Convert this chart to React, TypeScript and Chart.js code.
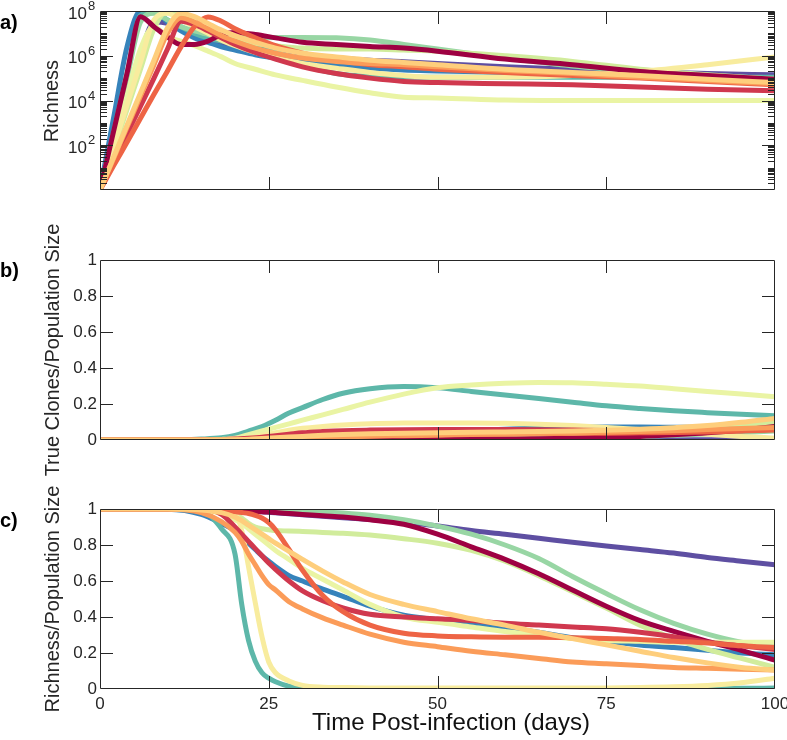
import React, { useEffect, useRef } from "react";
import { Chart, registerables } from "chart.js";

Chart.register(...registerables);

const FONT = "'Liberation Sans', Arial, Helvetica, sans-serif";
const INK = "#262626";
const W = 787;

// series colours (Spectral, 12 steps)
const SERIES_COLORS = [
  "#9e0142", "#d0384e", "#ee6445", "#fb9c59", "#fece7c", "#f8ec9e",
  "#eaf4a4", "#d1ec9c", "#98d6a4", "#5db7a9", "#3683bb", "#5e4fa2",
];
// drawing order, bottom -> top
const DRAW_ORDER = [11, 10, 9, 8, 7, 6, 5, 0, 1, 2, 3, 4];

const X_TICKS = [0, 25, 50, 75, 100];
const X_TITLE = "Time Post-infection (days)";
const A_Y_TICKS = [1e2, 1e4, 1e6, 1e8];
const A_Y_BASE = "10";
const A_Y_EXPONENTS = ["2", "4", "6", "8"];
const BC_Y_TICKS = [0, 0.2, 0.4, 0.6, 0.8, 1];
const BC_Y_LABELS = ["0", "0.2", "0.4", "0.6", "0.8", "1"];
const Y_TITLE_A = "Richness";
const Y_TITLE_B = "True Clones/Population Size";
const Y_TITLE_C = "Richness/Population Size";
const PANEL_LABELS = ["a)", "b)", "c)"];

// ---------- panel a: richness (log) ----------
const TIME_A = [0, 2, 4, 6, 8, 10, 12, 14, 16, 18, 20, 23, 26, 30, 35, 40, 45, 50, 60, 70, 80, 90, 100];
const A_S01 = [1, 4.0e2, 1.6e5, 5.6e7, 2.0e7, 6.9e6, 3.2e6, 3.2e6, 4.5e6, 8.9e6, 1.1e7, 8.9e6, 6.3e6, 4.0e6, 3.2e6, 2.6e6, 2.2e6, 1.6e6, 7.1e5, 4.0e5, 2.0e5, 1.3e5, 8.9e4];
const A_S02 = [1, 18, 3.2e2, 5.6e3, 1.0e5, 2.0e6, 3.5e7, 2.5e7, 1.3e7, 6.3e6, 3.2e6, 1.4e6, 7.1e5, 3.2e5, 1.6e5, 1.0e5, 7.1e4, 6.3e4, 5.6e4, 5.0e4, 4.0e4, 3.2e4, 2.7e4];
const A_S03 = [1, 12, 1.35e2, 1.6e3, 1.9e4, 2.1e5, 2.5e6, 2.0e7, 5.4e7, 3.5e7, 1.6e7, 6.3e6, 2.8e6, 1.3e6, 6.3e5, 4.0e5, 3.2e5, 2.5e5, 1.8e5, 1.3e5, 1.0e5, 7.1e4, 5.0e4];
const A_S04 = [1, 25, 6.3e2, 1.6e4, 4.0e5, 1.0e7, 5.0e7, 3.2e7, 1.6e7, 7.9e6, 4.5e6, 2.2e6, 1.3e6, 7.9e5, 5.6e5, 4.5e5, 4.0e5, 3.2e5, 2.2e5, 1.6e5, 1.1e5, 7.9e4, 5.6e4];
const A_S05 = [1, 28, 7.9e2, 2.2e4, 6.3e5, 1.8e7, 7.9e7, 5.6e7, 2.8e7, 1.4e7, 7.9e6, 4.0e6, 2.2e6, 1.3e6, 8.9e5, 6.3e5, 5.0e5, 4.0e5, 2.5e5, 1.8e5, 1.3e5, 8.9e4, 6.3e4];
const A_S06 = [1, 79, 6.3e3, 5.0e5, 4.0e7, 7.9e7, 4.0e7, 2.0e7, 1.0e7, 5.0e6, 2.8e6, 1.4e6, 7.9e5, 4.5e5, 2.8e5, 1.8e5, 1.3e5, 1.1e5, 1.1e5, 1.3e5, 2.0e5, 4.0e5, 8.9e5];
const A_S07 = [1, 1.3e2, 1.6e4, 2.0e6, 2.0e7, 7.1e6, 4.5e6, 2.8e6, 1.6e6, 8.9e5, 4.5e5, 2.5e5, 1.4e5, 7.9e4, 4.0e4, 2.2e4, 1.4e4, 1.3e4, 1.05e4, 1.0e4, 1.0e4, 1.0e4, 1.0e4];
const A_S08 = [1, 63, 4.0e3, 2.5e5, 1.6e7, 1.0e8, 6.3e7, 3.2e7, 1.6e7, 8.9e6, 5.6e6, 3.5e6, 2.8e6, 2.2e6, 2.0e6, 2.0e6, 1.8e6, 1.6e6, 1.0e6, 5.6e5, 2.5e5, 1.4e5, 8.9e4];
const A_S09 = [1, 3.2e2, 1.0e5, 3.2e7, 7.9e7, 4.0e7, 2.0e7, 1.3e7, 8.9e6, 7.1e6, 6.3e6, 6.3e6, 6.6e6, 6.6e6, 6.3e6, 5.0e6, 3.2e6, 2.0e6, 7.9e5, 3.5e5, 2.0e5, 1.3e5, 8.9e4];
const A_S10 = [1, 4.0e2, 1.6e5, 6.3e7, 8.9e7, 4.0e7, 2.0e7, 1.0e7, 6.3e6, 4.5e6, 3.5e6, 2.5e6, 1.6e6, 4.0e5, 1.6e5, 1.2e5, 1.1e5, 1.1e5, 1.1e5, 1.1e5, 1.1e5, 1.1e5, 1.1e5];
const A_S11 = [1, 1.6e3, 2.5e6, 1.0e8, 1.0e8, 3.2e7, 1.3e7, 6.3e6, 4.0e6, 2.5e6, 1.8e6, 1.1e6, 7.9e5, 5.6e5, 4.0e5, 2.8e5, 2.3e5, 2.1e5, 1.8e5, 1.4e5, 1.1e5, 9.3e4, 7.9e4];
const A_S12 = [1, 1.0e2, 1.0e4, 1.0e6, 3.2e7, 2.8e7, 1.6e7, 8.9e6, 5.6e6, 3.5e6, 2.5e6, 1.8e6, 1.3e6, 1.0e6, 7.9e5, 6.3e5, 5.4e5, 4.5e5, 3.2e5, 2.5e5, 2.0e5, 1.6e5, 1.4e5];

// ---------- panel b: true clones / population size ----------
const TIME_B = [0, 10, 15, 18, 20, 22, 24, 26, 28, 30, 33, 36, 40, 45, 50, 55, 60, 65, 70, 75, 80, 85, 90, 95, 100];
const B_S01 = [0, 0, 0, 0, 0, 0, 0, 0.001, 0.001, 0.002, 0.002, 0.003, 0.003, 0.004, 0.004, 0.005, 0.005, 0.007, 0.01, 0.015, 0.02, 0.029, 0.04, 0.056, 0.075];
const B_S02 = [0, 0, 0, 0.002, 0.005, 0.01, 0.016, 0.024, 0.032, 0.04, 0.047, 0.052, 0.055, 0.057, 0.058, 0.058, 0.058, 0.057, 0.055, 0.053, 0.05, 0.049, 0.048, 0.052, 0.06];
const B_S03 = [0, 0, 0, 0, 0.001, 0.002, 0.004, 0.006, 0.009, 0.012, 0.016, 0.02, 0.024, 0.028, 0.03, 0.032, 0.034, 0.036, 0.037, 0.038, 0.04, 0.042, 0.045, 0.05, 0.055];
const B_S04 = [0, 0, 0, 0, 0.001, 0.003, 0.005, 0.008, 0.011, 0.014, 0.017, 0.019, 0.021, 0.024, 0.027, 0.03, 0.033, 0.036, 0.039, 0.043, 0.047, 0.052, 0.058, 0.064, 0.07];
const B_S05 = [0, 0, 0, 0.001, 0.002, 0.004, 0.008, 0.012, 0.016, 0.02, 0.026, 0.031, 0.035, 0.038, 0.04, 0.043, 0.045, 0.047, 0.05, 0.054, 0.06, 0.068, 0.08, 0.098, 0.12];
const B_S06 = [0, 0, 0, 0.002, 0.005, 0.012, 0.025, 0.04, 0.055, 0.065, 0.075, 0.083, 0.09, 0.094, 0.095, 0.095, 0.093, 0.088, 0.08, 0.07, 0.058, 0.045, 0.032, 0.02, 0.01];
const B_S07 = [0, 0, 0, 0.003, 0.01, 0.03, 0.05, 0.07, 0.09, 0.11, 0.14, 0.17, 0.21, 0.255, 0.29, 0.305, 0.315, 0.32, 0.318, 0.31, 0.3, 0.285, 0.27, 0.255, 0.24];
const B_S08 = [0, 0, 0, 0, 0, 0, 0.001, 0.002, 0.003, 0.004, 0.004, 0.005, 0.005, 0.007, 0.01, 0.011, 0.012, 0.015, 0.02, 0.027, 0.035, 0.046, 0.06, 0.077, 0.095];
const B_S09 = [0, 0, 0, 0, 0, 0, 0, 0.001, 0.001, 0.001, 0.002, 0.002, 0.003, 0.004, 0.005, 0.006, 0.008, 0.01, 0.012, 0.015, 0.02, 0.026, 0.033, 0.041, 0.05];
const B_S10 = [0, 0, 0.005, 0.012, 0.025, 0.05, 0.075, 0.11, 0.15, 0.18, 0.225, 0.26, 0.285, 0.297, 0.29, 0.27, 0.25, 0.23, 0.21, 0.19, 0.175, 0.162, 0.152, 0.143, 0.135];
const B_S11 = [0, 0, 0, 0, 0, 0.001, 0.002, 0.004, 0.007, 0.01, 0.016, 0.022, 0.03, 0.038, 0.045, 0.053, 0.06, 0.066, 0.07, 0.072, 0.072, 0.071, 0.07, 0.068, 0.065];
const B_S12 = [0, 0, 0, 0, 0, 0, 0, 0, 0, 0, 0, 0, 0, 0, 0, 0, 0, 0, 0, 0.001, 0.001, 0.001, 0.002, 0.002, 0.002];

// ---------- panel c: richness / population size ----------
const TIME_C = [0, 10, 15, 18, 20, 21, 22, 23, 24, 25, 26, 28, 30, 33, 36, 40, 45, 50, 55, 60, 65, 70, 75, 80, 85, 90, 95, 100];
const C_S01 = [1, 1, 1, 0.998, 0.995, 0.993, 0.99, 0.988, 0.985, 0.983, 0.98, 0.975, 0.97, 0.962, 0.955, 0.94, 0.915, 0.86, 0.79, 0.72, 0.64, 0.55, 0.46, 0.38, 0.32, 0.265, 0.215, 0.16];
const C_S02 = [1, 1, 1, 0.97, 0.9, 0.86, 0.82, 0.78, 0.74, 0.7, 0.665, 0.6, 0.545, 0.49, 0.45, 0.415, 0.4, 0.39, 0.38, 0.365, 0.355, 0.345, 0.335, 0.315, 0.29, 0.26, 0.24, 0.22];
const C_S03 = [1, 1, 1, 0.995, 0.985, 0.98, 0.975, 0.965, 0.95, 0.925, 0.885, 0.775, 0.66, 0.52, 0.43, 0.355, 0.31, 0.295, 0.29, 0.288, 0.288, 0.285, 0.28, 0.275, 0.265, 0.255, 0.24, 0.23];
const C_S04 = [1, 1, 0.98, 0.93, 0.87, 0.82, 0.75, 0.69, 0.63, 0.58, 0.55, 0.485, 0.445, 0.395, 0.355, 0.305, 0.26, 0.235, 0.21, 0.19, 0.17, 0.15, 0.14, 0.13, 0.12, 0.115, 0.11, 0.105];
const C_S05 = [1, 1, 0.995, 0.98, 0.955, 0.935, 0.91, 0.885, 0.86, 0.835, 0.81, 0.765, 0.72, 0.655, 0.595, 0.525, 0.47, 0.43, 0.39, 0.355, 0.315, 0.28, 0.245, 0.21, 0.175, 0.145, 0.12, 0.105];
const C_S06 = [1, 1, 1, 0.995, 0.975, 0.88, 0.68, 0.48, 0.29, 0.15, 0.09, 0.045, 0.02, 0.01, 0.008, 0.006, 0.005, 0.005, 0.005, 0.005, 0.005, 0.005, 0.006, 0.008, 0.012, 0.02, 0.035, 0.06];
const C_S07 = [1, 1, 0.995, 0.975, 0.94, 0.92, 0.89, 0.86, 0.83, 0.8, 0.77, 0.72, 0.67, 0.61, 0.55, 0.47, 0.4, 0.37, 0.345, 0.32, 0.3, 0.28, 0.27, 0.265, 0.26, 0.26, 0.26, 0.26];
const C_S08 = [1, 1, 0.998, 0.99, 0.97, 0.95, 0.92, 0.9, 0.89, 0.885, 0.88, 0.878, 0.875, 0.87, 0.865, 0.855, 0.835, 0.81, 0.77, 0.71, 0.63, 0.54, 0.45, 0.355, 0.28, 0.22, 0.17, 0.12];
const C_S09 = [1, 1, 1, 1, 0.998, 0.997, 0.996, 0.995, 0.994, 0.993, 0.992, 0.991, 0.99, 0.985, 0.978, 0.965, 0.94, 0.905, 0.86, 0.8, 0.725, 0.625, 0.53, 0.44, 0.365, 0.305, 0.26, 0.235];
const C_S10 = [1, 1, 0.99, 0.89, 0.75, 0.47, 0.27, 0.155, 0.09, 0.06, 0.04, 0.015, 0.005, 0.002, 0, 0, 0, 0, 0, 0, 0, 0, 0, 0, 0, 0.002, 0.004, 0.005];
const C_S11 = [1, 0.998, 0.97, 0.92, 0.88, 0.845, 0.81, 0.775, 0.74, 0.71, 0.68, 0.63, 0.6, 0.555, 0.515, 0.46, 0.41, 0.385, 0.36, 0.34, 0.315, 0.285, 0.265, 0.245, 0.23, 0.215, 0.2, 0.19];
const C_S12 = [1, 1, 1, 0.998, 0.995, 0.993, 0.99, 0.987, 0.985, 0.982, 0.979, 0.974, 0.968, 0.96, 0.952, 0.942, 0.928, 0.905, 0.88, 0.86, 0.838, 0.815, 0.795, 0.775, 0.755, 0.73, 0.71, 0.69];

const SERIES_A = [A_S01, A_S02, A_S03, A_S04, A_S05, A_S06, A_S07, A_S08, A_S09, A_S10, A_S11, A_S12];
const SERIES_B = [B_S01, B_S02, B_S03, B_S04, B_S05, B_S06, B_S07, B_S08, B_S09, B_S10, B_S11, B_S12];
const SERIES_C = [C_S01, C_S02, C_S03, C_S04, C_S05, C_S06, C_S07, C_S08, C_S09, C_S10, C_S11, C_S12];

// minor tick positions for the log axis (2..9 x 10^n and odd decades)
const LOG_MINOR: number[] = [];
for (let n = 0; n < 8; n++) {
  for (let k = 2; k <= 9; k++) LOG_MINOR.push(k * Math.pow(10, n));
  if (n % 2 === 1) LOG_MINOR.push(Math.pow(10, n));
}

const TICK_LEN = 13;
const MINOR_LEN = 7;

const matlabAxes = {
  id: "matlabAxes",
  afterDraw(chart: any, _args: any, opts: any) {
    const { ctx, chartArea } = chart;
    const { left, right, top, bottom } = chartArea;
    const xs = chart.scales.x;
    const ys = chart.scales.y;
    ctx.save();
    ctx.strokeStyle = INK;
    ctx.lineWidth = 1;
    ctx.beginPath();
    X_TICKS.forEach((v) => {
      if (v <= xs.min || v >= xs.max) return;
      const p = Math.round(xs.getPixelForValue(v)) + 0.5;
      ctx.moveTo(p, bottom);
      ctx.lineTo(p, bottom - TICK_LEN);
      ctx.moveTo(p, top);
      ctx.lineTo(p, top + TICK_LEN);
    });
    const yTick = (v: number, len: number) => {
      if (v <= ys.min || v >= ys.max) return;
      const p = Math.round(ys.getPixelForValue(v)) + 0.5;
      ctx.moveTo(left, p);
      ctx.lineTo(left + len, p);
      ctx.moveTo(right, p);
      ctx.lineTo(right - len, p);
    };
    (opts.major || []).forEach((v: number) => yTick(v, TICK_LEN));
    (opts.minor || []).forEach((v: number) => yTick(v, MINOR_LEN));
    ctx.stroke();
    ctx.beginPath();
    ctx.rect(Math.round(left) + 0.5, Math.round(top) + 0.5, Math.round(right - left) - 1, Math.round(bottom - top) - 1);
    ctx.stroke();
    // superscript exponents for log tick labels
    if (opts.exponents) {
      ctx.fillStyle = INK;
      ctx.font = `13px ${FONT}`;
      ctx.textAlign = "left";
      ctx.textBaseline = "alphabetic";
      (opts.major || []).forEach((v: number, i: number) => {
        const p = ys.getPixelForValue(v);
        ctx.fillText(opts.exponents[i], left - 12, p - 1);
      });
    }
    ctx.restore();
  },
};

function buildDatasets(times: number[], series: number[][]) {
  const sets = DRAW_ORDER.map((idx) => ({
    data: times.map((t, i) => ({ x: t, y: series[idx][i] })),
    borderColor: SERIES_COLORS[idx],
    backgroundColor: SERIES_COLORS[idx],
    borderWidth: 5,
    pointRadius: 0,
    pointHoverRadius: 0,
    fill: false,
    cubicInterpolationMode: "monotone" as const,
    borderCapStyle: "round" as const,
    borderJoinStyle: "round" as const,
  }));
  // Chart.js paints dataset 0 last (on top)
  return sets.reverse();
}

const tickFont = { family: FONT, size: 17 };

function yAxisBase() {
  return {
    grid: { display: false, drawTicks: false },
    border: { display: false },
    afterFit: (s: any) => {
      s.width = 100;
      s.paddingTop = 0;
      s.paddingBottom = 0;
    },
  };
}

function configA(): any {
  return {
    type: "line",
    data: { datasets: buildDatasets(TIME_A, SERIES_A) },
    options: {
      responsive: false,
      animation: false,
      events: [],
      layout: { padding: { top: 11, bottom: 50, left: 0, right: 12 } },
      plugins: {
        legend: { display: false },
        tooltip: { enabled: false },
        matlabAxes: { major: A_Y_TICKS, minor: LOG_MINOR, exponents: A_Y_EXPONENTS },
      },
      scales: {
        x: { type: "linear", min: 0, max: 100, display: false },
        y: {
          ...yAxisBase(),
          type: "logarithmic",
          min: 1,
          max: 1e8,
          afterBuildTicks: (s: any) => {
            s.ticks = A_Y_TICKS.map((v) => ({ value: v }));
          },
          ticks: {
            font: tickFont,
            color: INK,
            padding: 13,
            labelOffset: 3,
            autoSkip: false,
            callback: () => A_Y_BASE,
          },
        },
      },
    },
    plugins: [matlabAxes],
  };
}

function configLinear(times: number[], series: number[][], padTop: number, padBottom: number, withX: boolean): any {
  const x: any = withX
    ? {
        type: "linear",
        min: 0,
        max: 100,
        afterBuildTicks: (s: any) => {
          s.ticks = X_TICKS.map((v) => ({ value: v }));
        },
        ticks: { font: tickFont, color: INK, padding: 5, maxRotation: 0, autoSkip: false },
        grid: { display: false, drawTicks: false },
        border: { display: false },
        afterFit: (s: any) => {
          s.height = 51;
          s.paddingLeft = 0;
          s.paddingRight = 0;
        },
      }
    : { type: "linear", min: 0, max: 100, display: false };
  return {
    type: "line",
    data: { datasets: buildDatasets(times, series) },
    options: {
      responsive: false,
      animation: false,
      events: [],
      layout: { padding: { top: padTop, bottom: padBottom, left: 0, right: 12 } },
      plugins: { legend: { display: false }, tooltip: { enabled: false }, matlabAxes: { major: BC_Y_TICKS, minor: [] } },
      scales: {
        x,
        y: {
          ...yAxisBase(),
          type: "linear",
          min: 0,
          max: 1,
          afterBuildTicks: (s: any) => {
            s.ticks = BC_Y_TICKS.map((v) => ({ value: v }));
          },
          ticks: {
            font: tickFont,
            color: INK,
            padding: 3,
            autoSkip: false,
            callback: (v: number) => {
              const i = BC_Y_TICKS.findIndex((t) => Math.abs(t - v) < 1e-9);
              return i >= 0 ? BC_Y_LABELS[i] : "";
            },
          },
        },
      },
    },
    plugins: [matlabAxes],
  };
}

function Panel({ top, height, config }: { top: number; height: number; config: () => any }) {
  const ref = useRef<HTMLCanvasElement | null>(null);
  useEffect(() => {
    if (!ref.current) return;
    const chart = new Chart(ref.current, config());
    return () => chart.destroy();
  }, [config]);
  return (
    <canvas
      ref={ref}
      width={W}
      height={height}
      style={{ position: "absolute", left: 0, top, width: W, height, display: "block" }}
    />
  );
}

const cfgB = () => configLinear(TIME_B, SERIES_B, 60, 40, false);
const cfgC = () => configLinear(TIME_C, SERIES_C, 49, 0, true);

function YTitle({ text, x, y }: { text: string; x: number; y: number }) {
  return (
    <div
      style={{
        position: "absolute",
        left: x,
        top: y,
        transform: "translate(-50%, -50%) rotate(-90deg)",
        whiteSpace: "nowrap",
        fontFamily: FONT,
        fontSize: 20,
        lineHeight: "24px",
        color: INK,
      }}
    >
      {text}
    </div>
  );
}

function XTitle({ text, x, y }: { text: string; x: number; y: number }) {
  return (
    <div
      style={{
        position: "absolute",
        left: x,
        top: y,
        transform: "translate(-50%, -50%)",
        whiteSpace: "nowrap",
        fontFamily: FONT,
        fontSize: 24,
        lineHeight: "28px",
        color: "#111",
      }}
    >
      {text}
    </div>
  );
}

function PanelLabel({ text, y }: { text: string; y: number }) {
  return (
    <div
      style={{
        position: "absolute",
        left: 0,
        top: y,
        fontFamily: FONT,
        fontWeight: "bold",
        fontSize: 20,
        lineHeight: "20px",
        color: "#000",
      }}
    >
      {text}
    </div>
  );
}

export default function App() {
  return (
    <div style={{ position: "absolute", left: 0, top: 0, width: W, height: 740, overflow: "hidden", background: "#fff" }}>
      <Panel top={0} height={240} config={configA} />
      <Panel top={200} height={280} config={cfgB} />
      <Panel top={460} height={280} config={cfgC} />
      <YTitle text={Y_TITLE_A} x={51} y={100.5} />
      <YTitle text={Y_TITLE_B} x={52} y={350} />
      <YTitle text={Y_TITLE_C} x={52} y={599} />
      <XTitle text={X_TITLE} x={451} y={722} />
      <PanelLabel text={PANEL_LABELS[0]} y={12} />
      <PanelLabel text={PANEL_LABELS[1]} y={260} />
      <PanelLabel text={PANEL_LABELS[2]} y={510} />
    </div>
  );
}
